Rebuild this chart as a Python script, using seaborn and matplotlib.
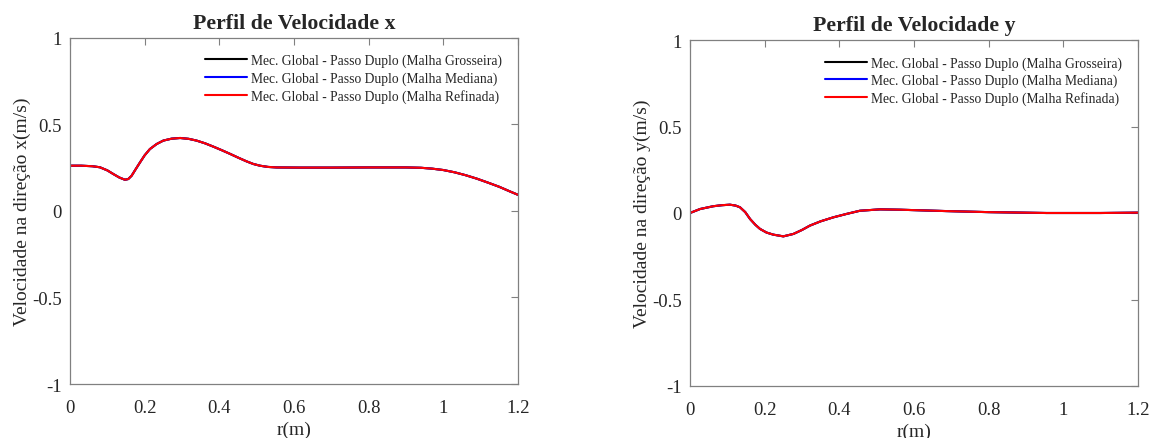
import numpy as np
import pandas as pd
import matplotlib
matplotlib.use('Agg')
import matplotlib.pyplot as plt
import seaborn as sns

# velocity profiles (the three meshes overlap)
r_x = [0.0, 0.03, 0.06, 0.08, 0.1, 0.116, 0.132, 0.147, 0.156, 0.165, 0.176, 0.1875, 0.2, 0.214,
       0.232, 0.25, 0.272, 0.295, 0.318, 0.339, 0.362, 0.384, 0.406, 0.429, 0.451, 0.473,
       0.491, 0.509, 0.53, 0.554, 0.616, 0.7, 0.8, 0.9, 0.94, 0.97, 1.0, 1.03, 1.06, 1.09,
       1.12, 1.15, 1.18, 1.2]
vel_x = [0.26, 0.26, 0.257, 0.251, 0.233, 0.212, 0.192, 0.179, 0.183, 0.202, 0.24, 0.279, 0.32, 0.356,
         0.385, 0.405, 0.416, 0.42, 0.415, 0.405, 0.389, 0.37, 0.35, 0.328, 0.306, 0.285,
         0.27, 0.26, 0.253, 0.25, 0.249, 0.249, 0.25, 0.25, 0.248, 0.243, 0.235, 0.222, 0.205,
         0.185, 0.162, 0.138, 0.11, 0.092]

r_y = [0.0, 0.027, 0.062, 0.085, 0.107, 0.122, 0.134, 0.148, 0.161, 0.175, 0.1875, 0.205, 0.223,
       0.25, 0.277, 0.3, 0.321, 0.35, 0.384, 0.42, 0.455, 0.509, 0.5625, 0.688, 0.8, 0.955,
       1.1, 1.2]
vel_y = [0.0, 0.023, 0.039, 0.045, 0.048, 0.043, 0.033, 0.005, -0.035, -0.068, -0.092, -0.113, -0.125,
         -0.135, -0.121, -0.098, -0.073, -0.048, -0.025, -0.005, 0.013, 0.021, 0.019, 0.011, 0.005, 0.0,
         0.0, 0.002]

meshes = ['Malha Grosseira', 'Malha Mediana', 'Malha Refinada']
colors = ['black', 'blue', 'red']

sns.set_style('white')
plt.rcParams['font.family'] = ['Liberation Serif', 'DejaVu Serif']

fig = plt.figure(figsize=(11.57, 4.39), dpi=100)
ax1 = fig.add_axes([70/1157, 1-385/439, 448/1157, 346.5/439])
ax2 = fig.add_axes([690/1157, 1-387/439, 448/1157, 346/439])

panels = [(ax1, r_x, vel_x, 'Perfil de Velocidade x', 'Velocidade na direção x(m/s)'),
          (ax2, r_y, vel_y, 'Perfil de Velocidade y', 'Velocidade na direção y(m/s)')]

for ax, r, v, title, ylab in panels:
    rows = []
    for m in meshes:
        for ri, vi in zip(r, v):
            rows.append({'r': ri, 'v': vi, 'malha': 'Mec. Global - Passo Duplo (' + m + ')'})
    df = pd.DataFrame(rows)
    sns.lineplot(data=df, x='r', y='v', hue='malha', palette=colors, ax=ax, linewidth=1.5,
                 estimator=None, sort=False)
    ax.set_xlim(0, 1.2)
    ax.set_ylim(-1, 1)
    ax.set_xticks([0, 0.2, 0.4, 0.6, 0.8, 1, 1.2])
    ax.set_xticklabels(['0', '0.2', '0.4', '0.6', '0.8', '1', '1.2'])
    ax.set_yticks([-1, -0.5, 0, 0.5, 1])
    ax.set_yticklabels(['-1', '-0.5', '0', '0.5', '1'])
    ax.tick_params(direction='in', top=True, right=True, length=5, width=0.8,
                   color='#808080', labelsize=13.5)
    ax.tick_params(axis='x', pad=11)
    ax.tick_params(axis='y', pad=6)
    for s in ax.spines.values():
        s.set_color('#808080')
        s.set_linewidth(0.9)
    ax.set_title(title, fontsize=15.7, fontweight='bold', pad=7)
    ax.set_xlabel('r(m)', fontsize=14, labelpad=3)
    ax.set_ylabel(ylab, fontsize=14, labelpad=1)
    ax.legend(loc='upper right', frameon=False, fontsize=9.8, handlelength=3.1,
              handletextpad=0.25, labelspacing=0.3, borderaxespad=0.8)

fig.savefig('out.png', dpi=100)
